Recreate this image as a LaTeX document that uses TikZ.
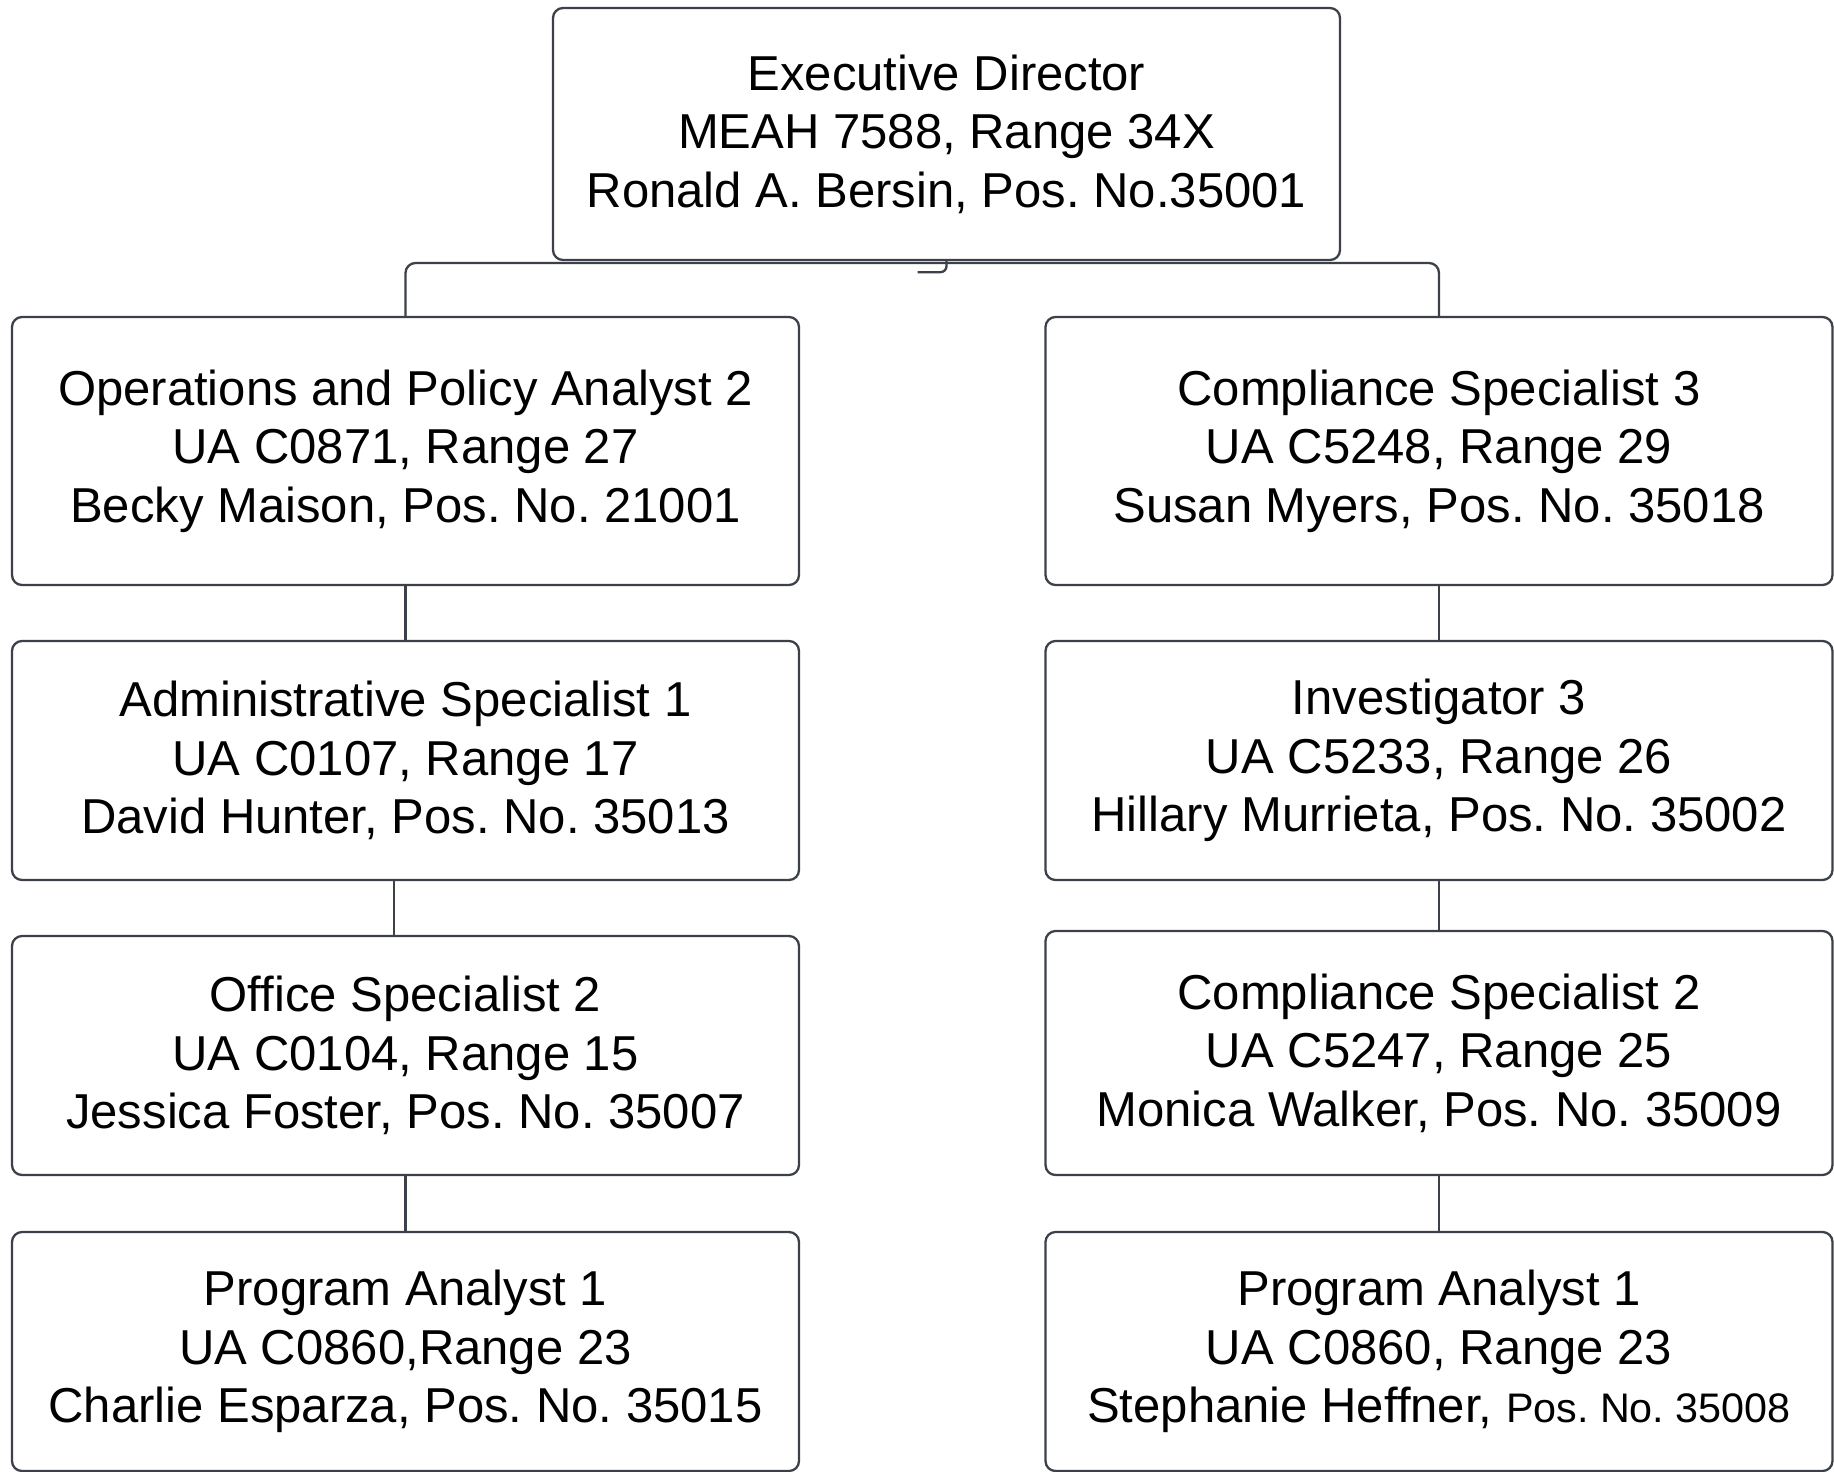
\documentclass[tikz,border=0pt]{standalone}
\usepackage{fontspec}
\setmainfont{Liberation Sans}
\frenchspacing
\definecolor{linegray}{RGB}{60,64,72}

\begin{document}
\begin{tikzpicture}[
    box/.style={draw=linegray, line width=1.3pt, rounded corners=0.2cm,
        align=center, minimum width=15.74cm,
        font=\fontsize{27.9}{33.3}\selectfont},
    link/.style={draw=linegray, line width=1.3pt}
]

    % --- Frame ---
    \useasboundingbox (0,0) rectangle (36.68,-29.44);

    % --- Top ---
    \node[box, minimum height=5.04cm] (ED) at (18.93,-2.68)
        {Executive Director\\MEAH 7588, Range 34X\\Ronald A. Bersin, Pos. No.35001};

    % --- Left column ---
    \node[box, minimum height=5.36cm] (OPA) at (8.11,-9.02)
        {Operations and Policy Analyst 2\\UA C0871, Range 27\\Becky Maison, Pos. No. 21001};
    \node[box, minimum height=4.78cm] (AS) at (8.11,-15.21)
        {Administrative Specialist 1\\UA C0107, Range 17\\David Hunter, Pos. No. 35013};
    \node[box, minimum height=4.78cm] (OS) at (8.11,-21.11)
        {Office Specialist 2\\UA C0104, Range 15\\Jessica Foster, Pos. No. 35007};
    \node[box, minimum height=4.78cm] (PA1) at (8.11,-27.03)
        {Program Analyst 1\\UA C0860,Range 23\\Charlie Esparza, Pos. No. 35015};

    % --- Right column ---
    \node[box, minimum height=5.36cm] (CS3) at (28.78,-9.02)
        {Compliance Specialist 3\\UA C5248, Range 29\\Susan Myers, Pos. No. 35018};
    \node[box, minimum height=4.78cm] (INV) at (28.78,-15.21)
        {Investigator 3\\UA C5233, Range 26\\Hillary Murrieta, Pos. No. 35002};
    \node[box, minimum height=4.88cm] (CS2) at (28.78,-21.06)
        {Compliance Specialist 2\\UA C5247, Range 25\\Monica Walker, Pos. No. 35009};
    \node[box, minimum height=4.78cm] (PA2) at (28.78,-27.03)
        {Program Analyst 1\\UA C0860, Range 23\\Stephanie Heffner, {\fontsize{23.5}{33.3}\selectfont Pos. No. 35008}};

    % --- Connectors ---
    % bus under the top box
    \coordinate (bus) at (18.93,-5.26);
    \draw[link, rounded corners=0.2cm] (OPA.north) |- (bus) -| (CS3.north);
    % short stub left under the top box
    \draw[link, rounded corners=0.12cm] (ED.south) -- ++(0,-0.22) -- ++(-0.58,0);

    \draw[link] (OPA.south) -- (AS.north);
    \draw[link] ([xshift=-0.23cm]AS.south) -- ([xshift=-0.23cm]OS.north);
    \draw[link] (OS.south) -- (PA1.north);

    \draw[link] (CS3.south) -- (INV.north);
    \draw[link] (INV.south) -- (CS2.north);
    \draw[link] (CS2.south) -- (PA2.north);

\end{tikzpicture}
\end{document}
